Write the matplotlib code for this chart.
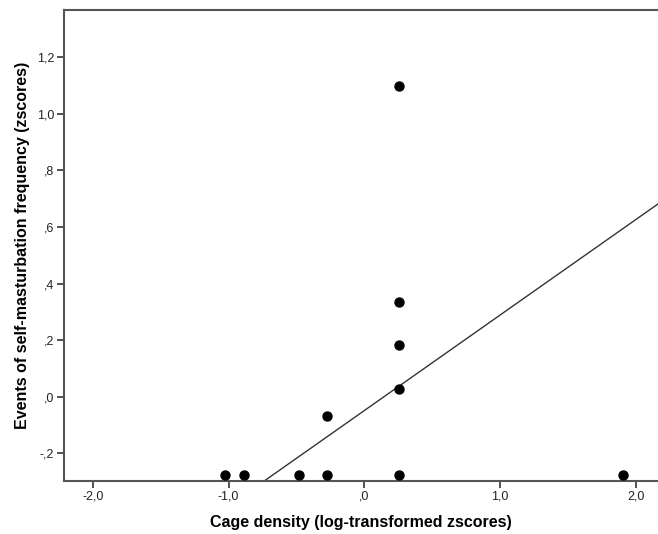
import numpy as np
import matplotlib.pyplot as plt

# -----------------------------
# Data (z-scores)
# -----------------------------
cage_density = [-1.024, -0.884, -0.483, -0.277, -0.277,
                0.258, 0.258, 0.258, 0.258, 0.258, 1.904]
self_mast = [-0.278, -0.278, -0.278, -0.278, -0.068,
             -0.278, 0.028, 0.182, 0.334, 1.100, -0.278]

# fit line (slope, intercept) as drawn
fit_slope, fit_intercept = 0.3375, -0.049

x_ticks = [-2.0, -1.0, 0.0, 1.0, 2.0]
y_ticks = [-0.2, 0.0, 0.2, 0.4, 0.6, 0.8, 1.0, 1.2]


def spss_fmt(v, nd=1):
    # SPSS style: comma decimal, no leading zero
    s = f"{abs(v):.{nd}f}".replace('.', ',')
    if s.startswith('0,'):
        s = s[1:]
    return ('-' if v < 0 else '') + s


plt.rcParams['font.family'] = ['Liberation Sans', 'DejaVu Sans']

fig = plt.figure(figsize=(6.58, 5.34), dpi=100)
ax = fig.add_axes([0.0973, 0.0998, 0.9027, 0.8815])

xlim = (-2.213, 2.164)
ylim = (-0.297, 1.367)
ax.set_xlim(*xlim)
ax.set_ylim(*ylim)

ax.scatter(cage_density, self_mast, s=42, color='black', zorder=3, clip_on=False)

xs = np.array(xlim)
ax.plot(xs, fit_slope * xs + fit_intercept, color='#333333', lw=1.0, zorder=2)

ax.set_xticks(x_ticks)
ax.set_xticklabels([spss_fmt(v) for v in x_ticks])
ax.set_yticks(y_ticks)
ax.set_yticklabels([spss_fmt(v) for v in y_ticks])

for side in ['left', 'bottom', 'top']:
    ax.spines[side].set_color('#555555')
    ax.spines[side].set_linewidth(1.5)
ax.spines['right'].set_visible(False)

ax.tick_params(axis='both', length=5, width=1.2, color='#333333',
               labelsize=9, labelcolor='#222222', pad=2)

ax.set_xlabel('Cage density (log-transformed zscores)', fontsize=11.5,
              fontweight='bold', labelpad=9)
ax.set_ylabel('Events of self-masturbation frequency (zscores)', fontsize=11.5,
              fontweight='bold', labelpad=5)

fig.savefig('out.png', dpi=100)
